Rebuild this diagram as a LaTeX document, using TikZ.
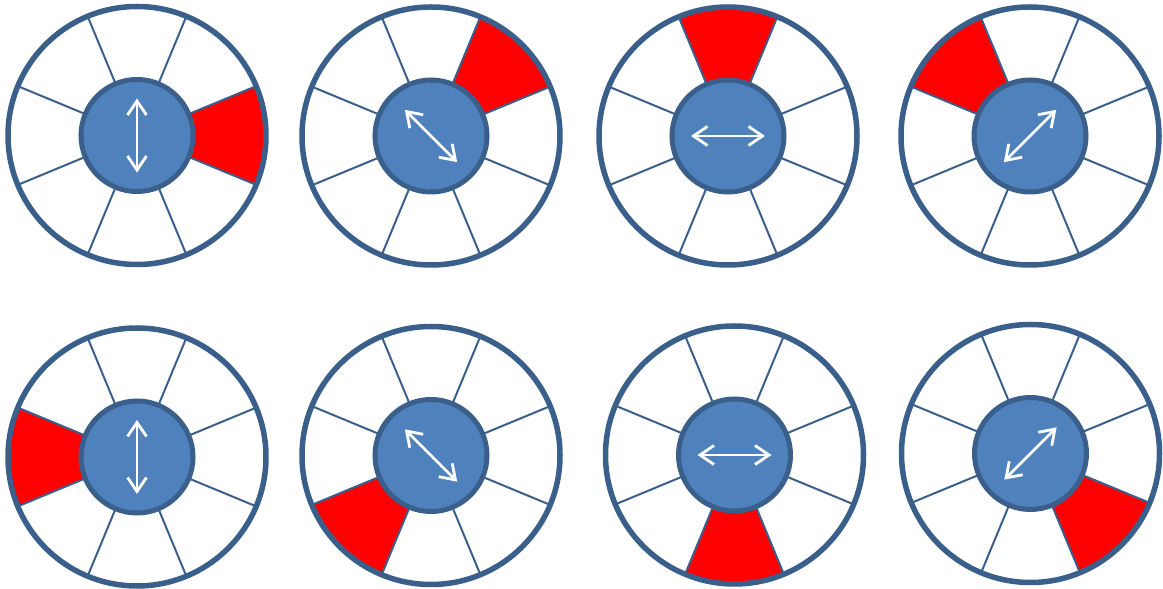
\documentclass[tikz,border=0pt]{standalone}
\usetikzlibrary{arrows.meta}
\definecolor{ringblue}{HTML}{3A5F8B}
\definecolor{hubblue}{HTML}{4F81BD}
\definecolor{sectorred}{HTML}{FF0000}
\tikzset{
  ring/.style={draw=ringblue, line width=5.5pt},
  spoke/.style={draw=ringblue, line width=2pt},
  hub/.style={draw=ringblue, fill=hubblue, line width=5pt},
  redsector/.style={fill=sectorred},
  dirarrow/.style={draw=white, line width=2.8pt, line cap=round, line join=round,
    {Straight Barb[length=14pt,width=19pt]}-{Straight Barb[length=14pt,width=19pt]}}
}
\begin{document}
\begin{tikzpicture}[x=1pt,y=1pt]
\useasboundingbox (0,0) rectangle (1163,589);
\foreach \cx/\cy/\ra/\aa [count=\i] in {
  137/453.5/0/90, 431/453/45/-45, 728/453/90/0, 1030/453/135/45,
  137/132/180/90, 431/133.5/225/-45, 734.5/134/270/0, 1030.5/135.5/315/45} {
  \coordinate (c\i) at (\cx,\cy);
  % red sector
  \fill[redsector] ([shift={(\ra-22.5:56)}]c\i)
     arc[start angle=\ra-22.5, delta angle=45, radius=56]
     -- ([shift={(\ra+22.5:129)}]c\i)
     arc[start angle=\ra+22.5, delta angle=-45, radius=129] -- cycle;
  % spokes
  \foreach \k in {0,...,7} {
    \draw[spoke] ([shift={(22.5+45*\k:56)}]c\i) -- ([shift={(22.5+45*\k:129)}]c\i);
  }
  % outer ring
  \draw[ring] (c\i) circle[radius=129];
  % hub
  \draw[hub] (c\i) circle[radius=56];
  % direction arrow
  \coordinate (a\i) at ([shift={(\aa:37)}]c\i);
  \coordinate (b\i) at ([shift={(\aa+180:37)}]c\i);
  \draw[dirarrow] (a\i) -- (b\i);
}
\end{tikzpicture}
\end{document}
